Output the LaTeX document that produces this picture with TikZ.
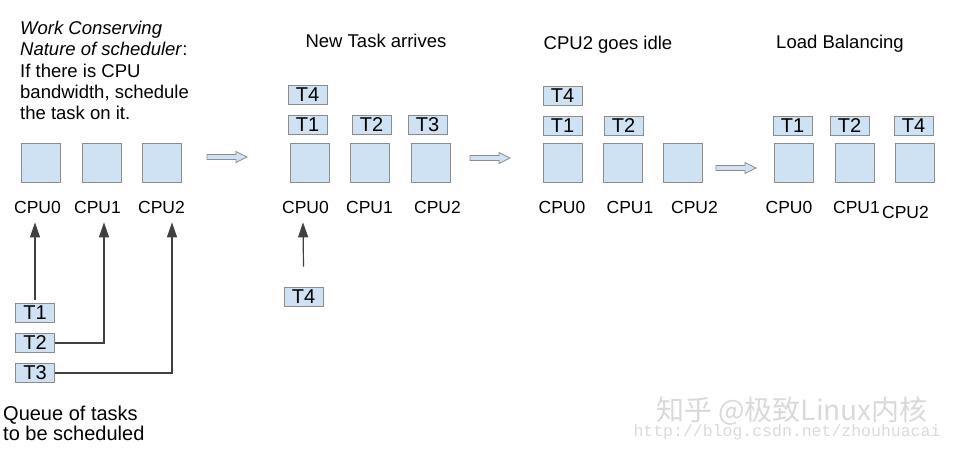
\documentclass[tikz,border=0pt]{standalone}
\usepackage{fontspec}
\setmainfont{Liberation Sans}
\newfontfamily\cjk{Noto Sans CJK SC}
\newfontfamily\wmono{Liberation Mono}
\usetikzlibrary{arrows.meta}
\definecolor{cpublue}{HTML}{CFE2F3}
\definecolor{boxline}{HTML}{8C8C8C}
\tikzset{
  cpu/.style={draw=boxline, line width=0.8pt, fill=cpublue, minimum width=39pt, minimum height=39pt, inner sep=0pt},
  task/.style={draw=boxline, line width=0.8pt, fill=cpublue, minimum width=39pt, minimum height=19pt, inner sep=0pt, font=\fontsize{20}{20}\selectfont},
  lbl/.style={anchor=base, inner sep=0pt, font=\fontsize{17.5}{20}\selectfont},
  ttl/.style={anchor=base, inner sep=0pt, font=\fontsize{18.5}{21}\selectfont},
  conn/.style={draw=black!75, line width=1.2pt, -{Triangle[length=15pt,width=10pt]}},
  blk/.style={draw=boxline, line width=0.7pt, fill=cpublue, line join=miter}
}
\begin{document}
\begin{tikzpicture}[x=1pt, y=-1pt, line cap=butt]
	\useasboundingbox (0,0) rectangle (954,451);
	% headings
	\node[anchor=north west, inner sep=0pt, align=left, font=\fontsize{18.5}{21.3}\selectfont] (note) at (20,21)
		{\textit{Work Conserving}\\ \textit{Nature of scheduler}:\\ If there is CPU\\ bandwidth, schedule\\ the task on it.};
	\node[ttl] (ttlB) at (376,47) {New Task arrives};
	\node[ttl] (ttlC) at (608,49) {CPU2 goes idle};
	\node[ttl] (ttlD) at (840,48) {Load Balancing};
	% cpus
	\foreach \g/\p/\q/\r in {A/41/101.5/162, B/309.5/369.5/430.5, C/562.5/622.5/682.5, D/793.5/854.5/914.5}{
		\node[cpu] (cpu\g0) at (\p,162.5) {};
		\node[cpu] (cpu\g1) at (\q,162.5) {};
		\node[cpu] (cpu\g2) at (\r,162.5) {};
	}
	\foreach \g/\p/\q/\r/\s in {A/37.5/97.5/161.5/213, B/305.5/369.5/437.5/213, C/562/630/694.5/213, D/789/856.5/905.5/218}{
		\node[lbl] (lbl\g0) at (\p,213) {CPU0};
		\node[lbl] (lbl\g1) at (\q,213) {CPU1};
		\node[lbl] (lbl\g2) at (\r,\s) {CPU2};
	}
	% tasks
	\node[task] (qT1) at (35,313) {T1};
	\node[task] (qT2) at (35,343) {T2};
	\node[task] (qT3) at (35,373) {T3};
	\node[task] (tB4) at (307.5,94.5) {T4};
	\node[task] (tB1) at (307.5,125) {T1};
	\node[task] (tB2) at (371.5,125) {T2};
	\node[task] (tB3) at (427.5,125) {T3};
	\node[task] (qB4) at (303.5,296.5) {T4};
	\node[task] (tC4) at (562.5,96) {T4};
	\node[task] (tC1) at (562.5,125.5) {T1};
	\node[task] (tC2) at (623.5,125.5) {T2};
	\node[task] (tD1) at (792.5,125.5) {T1};
	\node[task] (tD2) at (849.5,125.5) {T2};
	\node[task] (tD4) at (913.5,125.5) {T4};
	% scheduling arrows
	\draw[conn] ([yshift=3pt]qT1.north) -- ([xshift=-2.5pt,yshift=-9pt]lblA0.south);
	\draw[conn] (qT2.east) -| ([xshift=6.5pt,yshift=-9pt]lblA1.south);
	\draw[conn] (qT3.east) -| ([xshift=10.5pt,yshift=-9pt]lblA2.south);
	\draw[conn] ([yshift=20pt]qB4.north) -- ([xshift=-2.5pt,yshift=-9pt]lblB0.south);
	% step arrows
	\foreach \x/\y in {207/157, 470/158, 716/168}
		\draw[blk] (\x,\y-2.5) -- (\x+29,\y-2.5) -- (\x+29,\y-5.5) -- (\x+40,\y)
			-- (\x+29,\y+5.5) -- (\x+29,\y+2.5) -- (\x,\y+2.5) -- cycle;
	\node[anchor=north west, inner sep=0pt, align=left, font=\fontsize{20}{20}\selectfont] (queue) at (3,405.5)
		{Queue of tasks\\ to be scheduled};
	% watermark
	\node[text=gray!30, inner sep=0pt, font=\cjk\fontsize{28}{28}\selectfont] (wmark) at (792,411) {知乎 @极致Linux内核};
	\node[text=gray!30, inner sep=0pt, font=\wmono\fontsize{16.5}{17}\selectfont] (wurl) at (787,432) {http://blog.csdn.net/zhouhuacai};
\end{tikzpicture}
\end{document}
